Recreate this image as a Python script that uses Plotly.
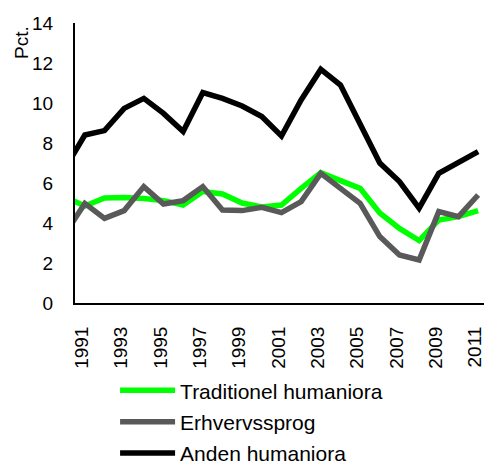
import plotly.graph_objects as go

# data (pct.)
years = list(range(1990, 2012))
traditionel = [5.29, 4.85, 5.25, 5.28, 5.23, 5.12, 4.90, 5.57, 5.45, 5.00, 4.80,
               4.90, 5.73, 6.52, 6.12, 5.73, 4.50, 3.73, 3.12, 4.15, 4.32, 4.62]
erhvervssprog = [3.48, 4.98, 4.23, 4.62, 5.82, 4.95, 5.12, 5.82, 4.65, 4.62, 4.78,
                 4.52, 5.07, 6.48, 5.73, 4.98, 3.32, 2.40, 2.15, 4.57, 4.32, 5.40]
anden = [6.74, 8.40, 8.62, 9.73, 10.23, 9.48, 8.57, 10.52, 10.23, 9.85, 9.32,
         8.35, 10.15, 11.68, 10.90, 8.98, 7.00, 6.07, 4.74, 6.48, 7.05, 7.57]
tick_years = list(range(1991, 2012, 2))

font = "Arial, Liberation Sans, sans-serif"

fig = go.Figure()
fig.add_trace(go.Scatter(x=years, y=traditionel, name="Traditionel humaniora",
                         legendgroup="a", mode="lines",
                         line=dict(color="#00ff00", width=5.5)))
fig.add_trace(go.Scatter(x=years, y=erhvervssprog, name="Erhvervssprog",
                         legendgroup="b", mode="lines",
                         line=dict(color="#595959", width=5.5)))
fig.add_trace(go.Scatter(x=years, y=anden, name="Anden humaniora",
                         legendgroup="c", mode="lines",
                         line=dict(color="#000000", width=5.5)))

fig.update_layout(
    width=484, height=465,
    margin=dict(l=75, r=0, t=23, b=162, autoexpand=False),
    paper_bgcolor="white", plot_bgcolor="white",
    font=dict(family=font, size=19, color="black"),
    showlegend=True,
    legend=dict(x=0.098, y=-0.240, xanchor="left", yanchor="top",
                orientation="v", font=dict(size=21), itemwidth=55,
                tracegroupgap=1, bgcolor="rgba(0,0,0,0)"),
    annotations=[dict(text="Pct.", x=(22 - 75) / 409, y=(303 - 43) / 280,
                      xref="paper", yref="paper", xanchor="center",
                      yanchor="middle", showarrow=False, textangle=-90,
                      font=dict(size=19))],
)

fig.update_xaxes(range=[1990.5, 2011.3], tickvals=tick_years,
                 ticktext=[str(y) for y in tick_years], tickangle=-90,
                 showgrid=False, zeroline=False, showline=True,
                 linecolor="black", linewidth=2, ticks="", ticklabelstandoff=14,
                 ticklabelshift=-3, ticklabeloverflow="allow")
fig.update_yaxes(range=[0, 14], dtick=2, showgrid=False, zeroline=False,
                 showline=True, linecolor="black", linewidth=2, ticks="",
                 ticklabelstandoff=16)

fig.write_html("out.html", config={"displayModeBar": False},
               post_script="document.body.style.margin='0';")
